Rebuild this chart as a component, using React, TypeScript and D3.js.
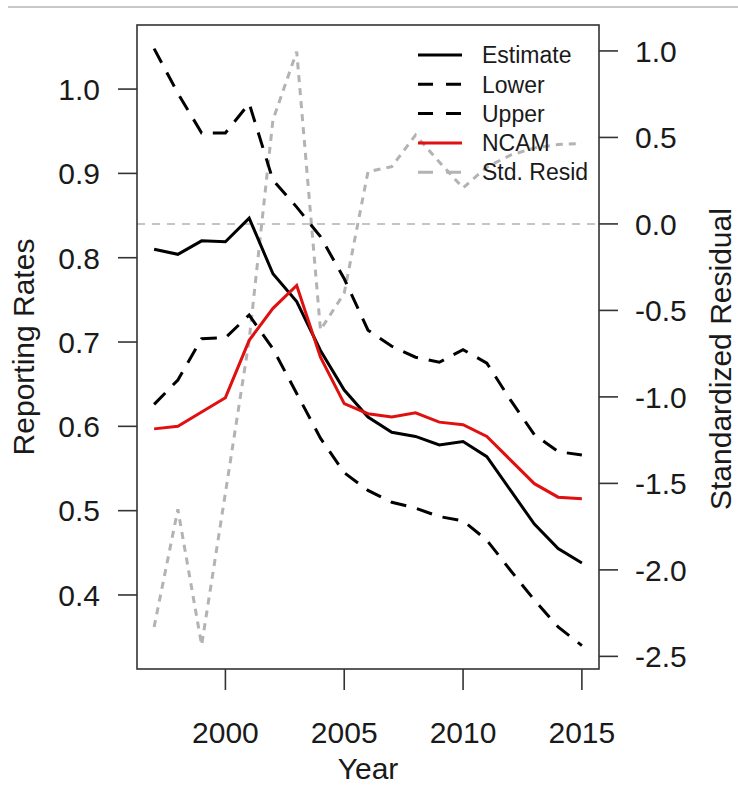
import { useEffect, useRef } from "react";
import * as d3 from "d3";

// Years 1997-2015
const years = d3.range(1997, 2016);

const estimate = [
  0.810, 0.804, 0.820, 0.819, 0.847, 0.781, 0.748, 0.690, 0.643, 0.611,
  0.593, 0.588, 0.578, 0.582, 0.564, 0.524, 0.484, 0.455, 0.438,
];
const lower = [
  0.626, 0.655, 0.704, 0.705, 0.732, 0.692, 0.639, 0.586, 0.545, 0.524,
  0.510, 0.503, 0.493, 0.488, 0.465, 0.429, 0.394, 0.362, 0.340,
];
const upper = [
  1.048, 0.995, 0.948, 0.948, 0.983, 0.892, 0.860, 0.825, 0.775, 0.714,
  0.695, 0.682, 0.676, 0.691, 0.675, 0.631, 0.590, 0.570, 0.566,
];
const ncam = [
  0.597, 0.600, 0.617, 0.634, 0.702, 0.740, 0.767, 0.682, 0.627, 0.615,
  0.611, 0.616, 0.605, 0.602, 0.588, 0.560, 0.532, 0.516, 0.514,
];
const stdResid = [
  -2.33, -1.65, -2.435, -1.556, -0.671, 0.601, 0.996, -0.613, -0.40, 0.302,
  0.331, 0.514, 0.358, 0.208, 0.329, 0.398, 0.439, 0.459, 0.465,
];

const xTicks = [2000, 2005, 2010, 2015];
const leftTicks = [0.4, 0.5, 0.6, 0.7, 0.8, 0.9, 1.0];
const rightTicks = [-2.5, -2.0, -1.5, -1.0, -0.5, 0.0, 0.5, 1.0];

const legendLabels = ["Estimate", "Lower", "Upper", "NCAM", "Std. Resid"];

const W = 738;
const H = 786;
const FONT = "'Liberation Sans', Arial, Helvetica, sans-serif";
const GREY = "#b3b3b3";
const RED = "#e01010";

export default function App() {
  const svgRef = useRef<SVGSVGElement>(null);

  useEffect(() => {
    if (!svgRef.current) return;
    const svg = d3.select(svgRef.current);
    svg.selectAll("*").remove();

    // plot box
    const left = 137;
    const right = 599;
    const top = 25;
    const bottom = 669;

    const x = d3.scaleLinear().domain([1996.28, 2015.72]).range([left, right]);
    const yL = d3.scaleLinear().domain([0.3122, 1.076]).range([bottom, top]);
    const yR = d3.scaleLinear().domain([-2.573, 1.150]).range([bottom, top]);

    // thin grey rule at the top of the page
    svg.append("line")
      .attr("x1", 8).attr("x2", W)
      .attr("y1", 7).attr("y2", 7)
      .attr("stroke", "#c8c8c8")
      .attr("stroke-width", 2);

    const lineL = (vals: number[]) =>
      d3.line<number>().x((_, i) => x(years[i])).y((d) => yL(d))(vals);
    const lineR = d3.line<number>().x((_, i) => x(years[i])).y((d) => yR(d));

    // residual zero reference
    svg.append("line")
      .attr("x1", left).attr("x2", right)
      .attr("y1", yR(0)).attr("y2", yR(0))
      .attr("stroke", GREY)
      .attr("stroke-width", 1.6)
      .attr("stroke-dasharray", "8 7");

    // standardized residuals
    svg.append("path")
      .attr("d", lineR(stdResid))
      .attr("fill", "none")
      .attr("stroke", GREY)
      .attr("stroke-width", 3)
      .attr("stroke-dasharray", "7 6");

    // bounds
    [lower, upper].forEach((s) => {
      svg.append("path")
        .attr("d", lineL(s))
        .attr("fill", "none")
        .attr("stroke", "#000")
        .attr("stroke-width", 3)
        .attr("stroke-dasharray", "16 11");
    });

    svg.append("path")
      .attr("d", lineL(estimate))
      .attr("fill", "none")
      .attr("stroke", "#000")
      .attr("stroke-width", 3);

    svg.append("path")
      .attr("d", lineL(ncam))
      .attr("fill", "none")
      .attr("stroke", RED)
      .attr("stroke-width", 3);

    // box
    svg.append("rect")
      .attr("x", left).attr("y", top)
      .attr("width", right - left).attr("height", bottom - top)
      .attr("fill", "none")
      .attr("stroke", "#333")
      .attr("stroke-width", 1.6);

    const tickLen = 19;
    const axisG = svg.append("g").attr("font-family", FONT).attr("fill", "#1a1a1a");

    // bottom axis
    xTicks.forEach((t) => {
      axisG.append("line")
        .attr("x1", x(t)).attr("x2", x(t))
        .attr("y1", bottom).attr("y2", bottom + tickLen + 2)
        .attr("stroke", "#333").attr("stroke-width", 1.6);
      axisG.append("text")
        .attr("x", x(t)).attr("y", 743)
        .attr("text-anchor", "middle")
        .attr("font-size", 30)
        .text(String(t));
    });

    // left axis
    leftTicks.forEach((t) => {
      axisG.append("line")
        .attr("x1", left - tickLen).attr("x2", left)
        .attr("y1", yL(t)).attr("y2", yL(t))
        .attr("stroke", "#333").attr("stroke-width", 1.6);
      axisG.append("text")
        .attr("x", 100).attr("y", yL(t))
        .attr("dy", "0.36em")
        .attr("text-anchor", "end")
        .attr("font-size", 30)
        .text(t.toFixed(1));
    });

    // right axis
    rightTicks.forEach((t) => {
      axisG.append("line")
        .attr("x1", right).attr("x2", right + tickLen)
        .attr("y1", yR(t)).attr("y2", yR(t))
        .attr("stroke", "#333").attr("stroke-width", 1.6);
      axisG.append("text")
        .attr("x", 635).attr("y", yR(t))
        .attr("dy", "0.36em")
        .attr("text-anchor", "start")
        .attr("font-size", 30)
        .text(t.toFixed(1));
    });

    // axis titles
    axisG.append("text")
      .attr("x", 368).attr("y", 779)
      .attr("text-anchor", "middle")
      .attr("font-size", 30)
      .text("Year");

    axisG.append("text")
      .attr("transform", `translate(34, ${(top + bottom) / 2}) rotate(-90)`)
      .attr("text-anchor", "middle")
      .attr("font-size", 30)
      .text("Reporting Rates");

    axisG.append("text")
      .attr("transform", `translate(731, 510) rotate(-90)`)
      .attr("text-anchor", "start")
      .attr("font-size", 30)
      .text("Standardized Residual");

    // legend
    const legendStyles = [
      { stroke: "#000", dash: null },
      { stroke: "#000", dash: "15 13" },
      { stroke: "#000", dash: "15 13" },
      { stroke: RED, dash: null },
      { stroke: GREY, dash: "15 13" },
    ];
    const legend = svg.append("g").attr("font-family", FONT);
    legendLabels.forEach((label, i) => {
      const ly = 55 + i * 29.3;
      const st = legendStyles[i];
      const l = legend.append("line")
        .attr("x1", 418).attr("x2", 462)
        .attr("y1", ly).attr("y2", ly)
        .attr("stroke", st.stroke)
        .attr("stroke-width", 3);
      if (st.dash) l.attr("stroke-dasharray", st.dash);
      legend.append("text")
        .attr("x", 482).attr("y", ly)
        .attr("dy", "0.36em")
        .attr("font-size", 23)
        .attr("fill", "#1a1a1a")
        .text(label);
    });
  }, []);

  return (
    <div style={{ position: "absolute", left: 0, top: 0, width: W, height: H, background: "#fff" }}>
      <svg ref={svgRef} width={W} height={H} viewBox={`0 0 ${W} ${H}`} />
    </div>
  );
}
